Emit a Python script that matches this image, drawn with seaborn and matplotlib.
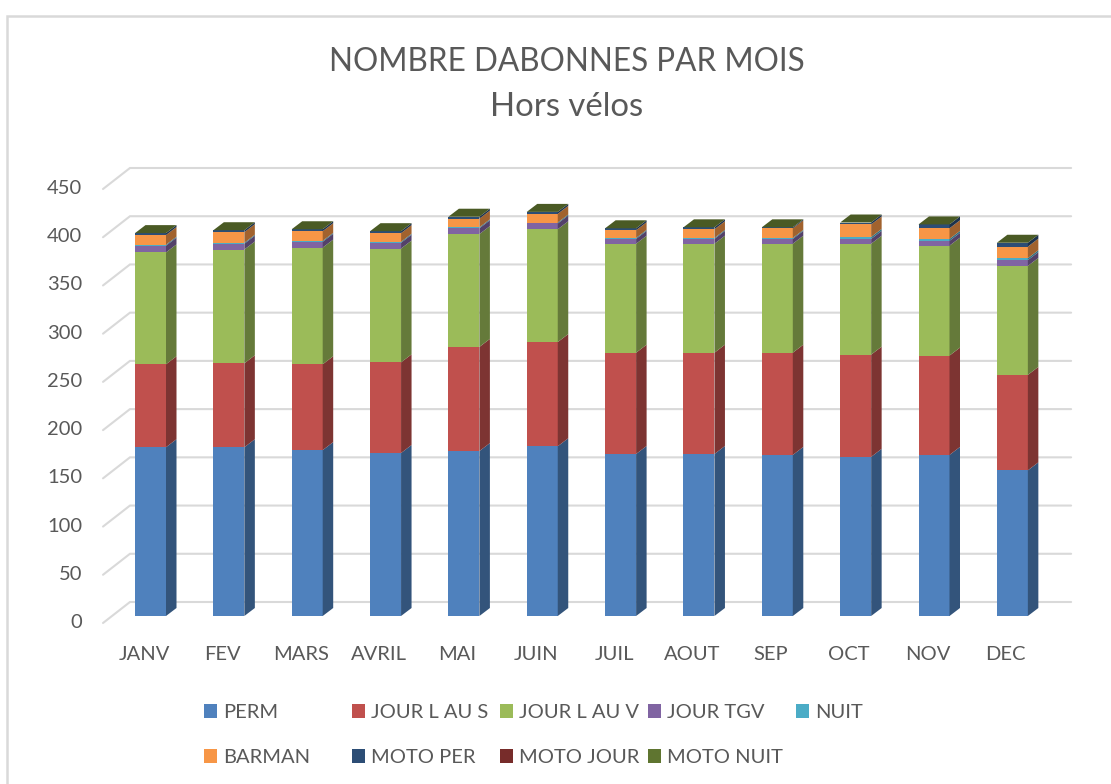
import matplotlib
matplotlib.use("Agg")
import numpy as np
import seaborn as sns
from matplotlib import pyplot as plt
from matplotlib.colors import to_rgb
from matplotlib.lines import Line2D
from matplotlib.patches import Patch, Polygon
from matplotlib.transforms import ScaledTranslation

# values
months = ["JANV", "FEV", "MARS", "AVRIL", "MAI", "JUIN", "JUIL", "AOUT", "SEP", "OCT", "NOV", "DEC"]
perm = [175, 175, 172, 169, 171, 176, 168, 168, 167, 165, 167, 151]
jour_s = [86, 87, 89, 94, 108, 108, 105, 105, 106, 106, 103, 99]
jour_v = [116, 118, 121, 118, 117, 117, 113, 113, 113, 115, 114, 113]
jour_tgv = [7, 6, 6, 6, 6, 6, 5, 5, 5, 5, 5, 6]
nuit = [1, 1, 1, 1, 1, 1, 1, 1, 1, 2, 2, 2]
barman = [10, 11, 10, 9, 9, 9, 8, 9, 10, 13, 11, 12]
moto_per = [2, 2, 2, 2, 2, 2, 2, 2, 1, 2, 4, 4]
moto_jour = [0, 0, 0, 0, 0, 0, 0, 0, 0, 0, 0, 0]
moto_nuit = [0, 0, 0, 0, 0, 0, 0, 0, 0, 0, 0, 0]

series = [perm, jour_s, jour_v, jour_tgv, nuit, barman, moto_per, moto_jour, moto_nuit]
names = ["PERM", "JOUR L AU S", "JOUR L AU V", "JOUR TGV", "NUIT", "BARMAN", "MOTO PER", "MOTO JOUR", "MOTO NUIT"]
colors = ["#4f81bd", "#c0504d", "#9bbb59", "#8064a2", "#4bacc6", "#f79646", "#2c4d75", "#772c2a", "#5f7530"]
ticks = [0, 50, 100, 150, 200, 250, 300, 350, 400, 450]

W, H = 1111, 784
GREY = "#595959"
GRID = "#d9d9d9"

sns.set_theme(style="white")
plt.rcParams["font.family"] = ["Lato", "DejaVu Sans"]

fig = plt.figure(figsize=(W / 100, H / 100), dpi=100)
# plot area in pixels: front of the bars
step = 78.35
left = 150.5 - step / 2
ax = fig.add_axes([left / W, (H - 616) / H, 12 * step / W, 434 / H])

px_x = 1 / step
px_y = 450 / 434

# back wall and its slanted floor lines
for v in ticks:
    yb = v + 14 * px_y
    yf = v - 7 * px_y
    ax.plot([-0.606, -0.262, 11.75], [yf, yb, yb], color=GRID, lw=1.5, zorder=0,
            clip_on=False, solid_joinstyle="miter")

bottom = np.zeros(len(months))
for vals, name, col in zip(series, names, colors):
    sns.barplot(x=months, y=vals, bottom=bottom, color=col, saturation=1, width=31 / step,
                errorbar=None, linewidth=0, ax=ax)
    bottom = bottom + np.array(vals)

# fake 3D: side faces and the top face, built on the bars seaborn drew
dx = 10.5 * px_x
dy = 8 * px_y
for cont, col in zip(ax.containers, colors):
    dark = tuple(c * 0.65 for c in to_rgb(col))
    for rect in cont:
        x1 = rect.get_x() + rect.get_width()
        y0 = rect.get_y()
        y1 = y0 + rect.get_height()
        ax.add_patch(Polygon([(x1, y0), (x1 + dx, y0 + dy), (x1 + dx, y1 + dy), (x1, y1)],
                             facecolor=dark, edgecolor="none", zorder=1, clip_on=False))
for rect in ax.containers[-1]:
    x0 = rect.get_x()
    x1 = x0 + rect.get_width()
    y1 = rect.get_y()
    ax.add_patch(Polygon([(x0, y1), (x1, y1), (x1 + dx, y1 + dy), (x0 + dx, y1 + dy)],
                         facecolor="#4a5a24", edgecolor="none", zorder=1, clip_on=False))

ax.set_xlim(-0.5, 11.5)
ax.set_ylim(0, 450)
ax.set_yticks(ticks)
ax.set_xlabel("")
ax.set_ylabel("")
ax.tick_params(axis="x", length=0, pad=21.5, labelsize=14.5, labelcolor=GREY)
ax.tick_params(axis="y", length=0, pad=21, labelsize=14.5, labelcolor=GREY)
sns.despine(ax=ax, left=True, bottom=True)

# labels sit on the front plane, not under the bars
for lab in ax.get_xticklabels():
    lab.set_transform(lab.get_transform() + ScaledTranslation(-6.5 / 100, 0, fig.dpi_scale_trans))
for lab in ax.get_yticklabels():
    lab.set_transform(lab.get_transform() + ScaledTranslation(0, -5 / 100, fig.dpi_scale_trans))

fig.text(567 / W, 1 - 62 / H, "NOMBRE DABONNES PAR MOIS", ha="center", va="center", fontsize=22.7, color=GREY)
fig.text(567 / W, 1 - 107 / H, "Hors vélos", ha="center", va="center", fontsize=23.7, color=GREY)

# legend columns are evenly spaced in the reference, so one legend per column
handles = [Patch(facecolor=c, edgecolor="none") for c in colors]
for i in range(5):
    idx = [j for j in (i, i + 5) if j < len(names)]
    fig.legend([handles[j] for j in idx], [names[j] for j in idx],
               loc="upper left", bbox_to_anchor=((204 + i * 148) / W, 1 - 704 / H),
               frameon=False, fontsize=14.5, labelcolor=GREY, borderpad=0, borderaxespad=0,
               handlelength=0.65, handleheight=0.65, handletextpad=0.3, labelspacing=1.4)

# chart frame: only top and left show in the crop
fig.add_artist(Line2D([7 / W, 7 / W, 1], [0, 1 - 16 / H, 1 - 16 / H], transform=fig.transFigure,
                      color=GRID, lw=1.8, solid_joinstyle="miter"))

fig.savefig("out.png", dpi=100)
